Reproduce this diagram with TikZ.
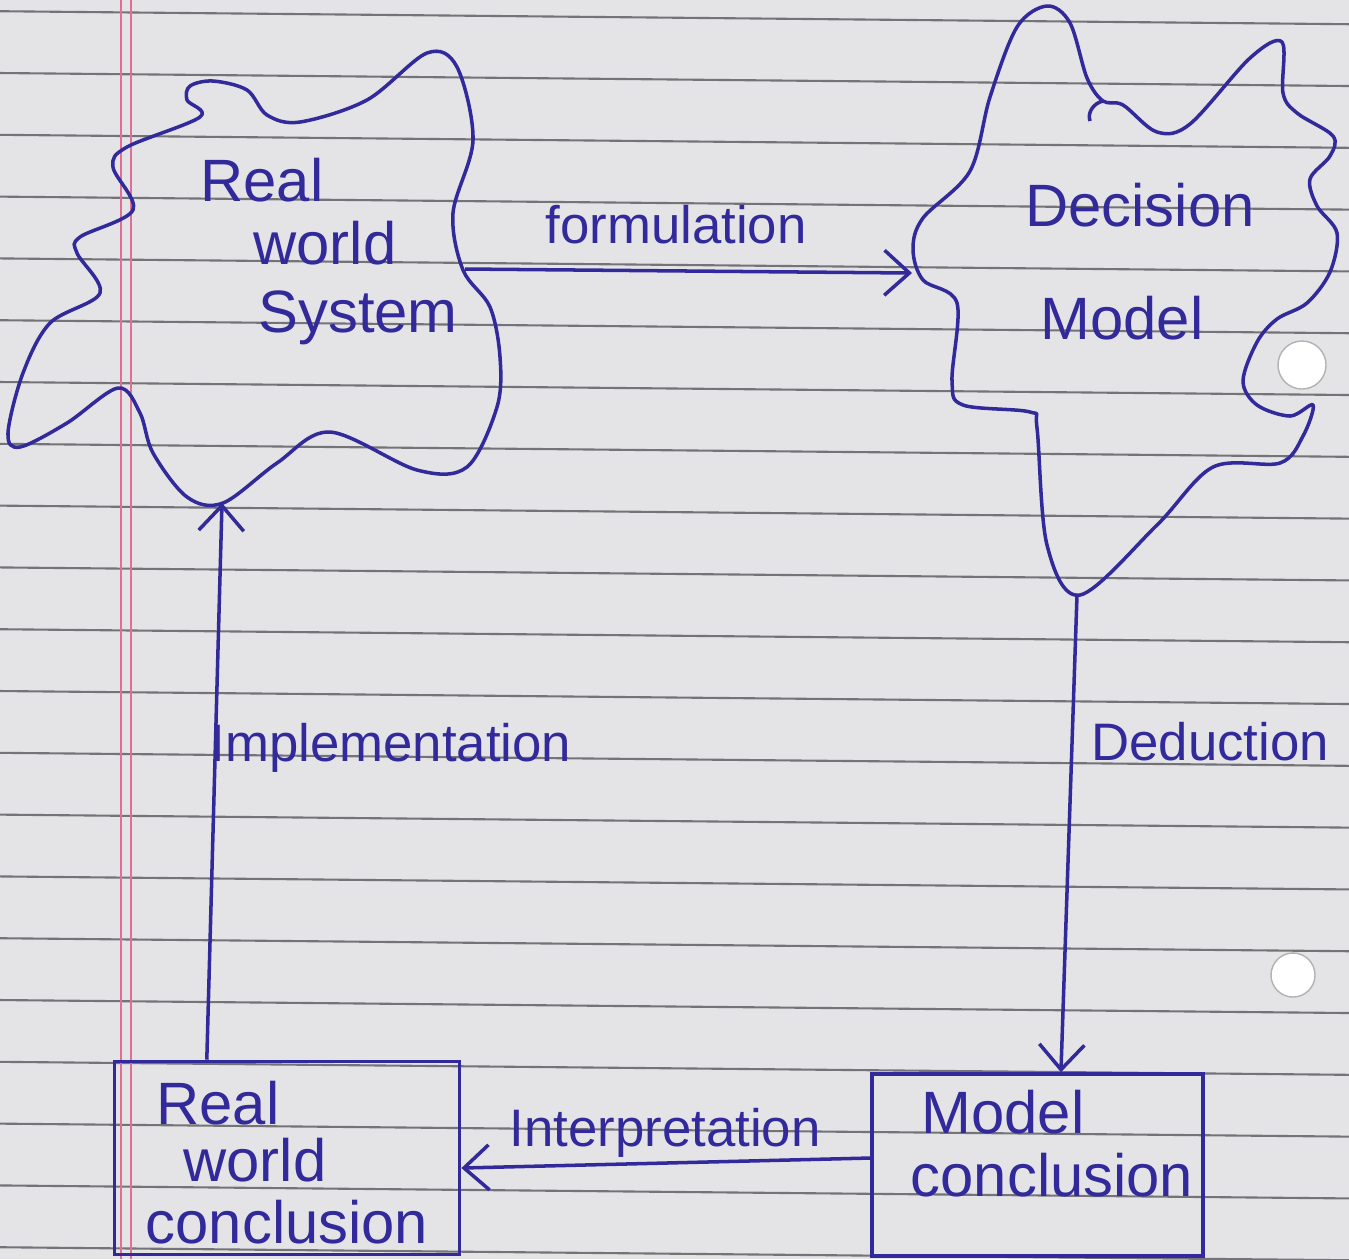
\documentclass[tikz,border=0pt]{standalone}
\usepackage{fontspec}
\setmainfont{Liberation Sans}
\usetikzlibrary{arrows.meta,calc}
\definecolor{ink}{RGB}{50,42,155}
\definecolor{paper}{RGB}{228,228,231}
\definecolor{rulecol}{RGB}{115,115,120}
\definecolor{margincol}{RGB}{225,110,150}
\begin{document}
\begin{tikzpicture}[x=0.01cm,y=-0.01cm,
  cloudline/.style={draw=ink, line width=1pt, line join=round},
  boxnode/.style={draw=ink, line width=1pt, rectangle, inner sep=0pt},
  arr/.style={draw=ink, line width=1pt, -{Straight Barb[length=2.5mm,width=4.5mm]}},
  lbl/.style={text=ink, font=\fontsize{15}{18}\selectfont, inner sep=1pt},
  word/.style={text=ink, font=\fontsize{17}{20}\selectfont, inner sep=1pt}]
\useasboundingbox (0,0) rectangle (1349,1259);
% paper
\fill[paper] (0,0) rectangle (1349,1259);
\foreach \k in {0,...,20} \draw[rulecol, line width=0.6pt] (0,{11.2+61.8*\k}) -- (1349,{24.2+61.8*\k});
\draw[margincol, line width=0.8pt] (121,0) -- (121,1259);
\draw[margincol, line width=0.8pt] (131,0) -- (131,1259);
\fill[white, draw=gray!60] (1302,365) circle (0.24cm);
\fill[white, draw=gray!60] (1293,975) circle (0.22cm);
% left cloud
\draw[cloudline] plot[smooth cycle, tension=0.55] coordinates {
 (200,117) (187,100) (190,86) (213,81) (247,90) (267,115) (300,122) (367,100)
 (427,53) (457,67) (473,140) (453,213) (463,270) (490,307) (500,357) (497,407)
 (467,467) (417,470) (330,432) (277,463) (223,503) (187,497) (153,453) (140,413)
 (118,388) (67,423) (20,447) (8,433) (23,373) (50,323) (100,293) (77,253)
 (80,237) (133,210) (113,167) (127,147)};
\coordinate (rwsR) at (465,269);
\coordinate (rwsB) at (222,503);
% right cloud
\draw[cloudline] plot[smooth cycle, tension=0.55] coordinates {
 (1047,6) (1070,23) (1087,78) (1103,101) (1123,105) (1157,132) (1190,124) (1250,58)
 (1282,42) (1283,93) (1297,113) (1333,136) (1330,156) (1310,179) (1317,206) (1337,233)
 (1330,272) (1307,303) (1277,319) (1257,342) (1243,381) (1257,405) (1290,416) (1313,405)
 (1303,436) (1280,463) (1213,467) (1157,525) (1080,595) (1047,545) (1037,428) (1030,412)
 (963,405) (952,381) (957,303) (923,280) (913,249) (923,218) (970,171) (990,97) (1017,27)};
\draw[cloudline] (1103,101) .. controls (1094,103) and (1087,112) .. (1090,121);
\coordinate (dmL) at (912,273);
\coordinate (dmB) at (1077,595);
% cloud texts
\node[word] (rws1) at (262,180) {Real};
\node[word] (rws2) at (325,243) {world};
\node[word] (rws3) at (358,318) {System};
\node[word] (dm1) at (1140,205) {Decision};
\node[word] (dm2) at (1122,318) {Model};
% boxes
\node[boxnode, minimum width=3.45cm, minimum height=1.93cm] (rwc) at (287,1158) {};
\node[boxnode, minimum width=3.31cm, minimum height=1.82cm] (mc) at (1037.5,1165) {};
\node[word] (rwc1) at (218,1103) {Real};
\node[word] (rwc2) at (255,1160) {world};
\node[word] (rwc3) at (287,1222) {conclusion};
\node[word] (mc1) at (1003,1112) {Model};
\node[word] (mc2) at (1052,1175) {conclusion};
% connectors
\draw[arr] (rwsR) -- (dmL);
\draw[arr] (dmB) -- ($(mc.north west)!0.57!(mc.north east)$);
\draw[arr] ($(mc.west)+(0,-7)$) -- ($(rwc.east)+(0,10)$);
\draw[arr] ($(rwc.north west)!0.27!(rwc.north east)$) -- (rwsB);
% labels
\node[lbl] (lform) at (676,225) {formulation};
\node[lbl] (limp) at (391,748) {Implementation};
\node[lbl] (lded) at (1210,742) {Deduction};
\node[lbl] (lint) at (665,1133) {Interpretation};
\end{tikzpicture}
\end{document}
